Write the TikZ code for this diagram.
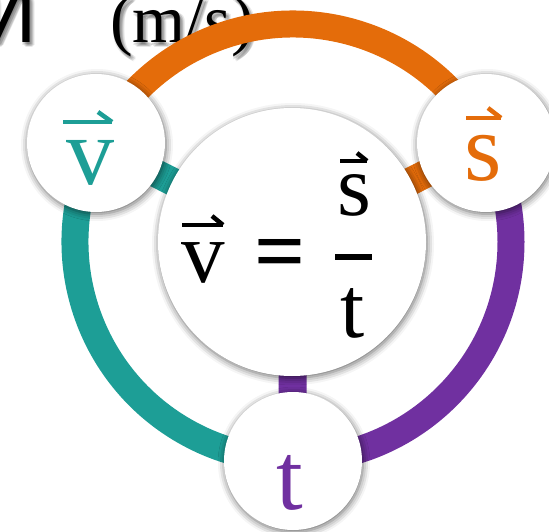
\documentclass[tikz,border=0pt]{standalone}
\usepackage{fontspec}
\setmainfont{Liberation Serif}
\newfontfamily\thaifont[Script=Thai]{Loma}
\usetikzlibrary{shadows.blur}
\definecolor{cteal}{HTML}{1D9E96}
\definecolor{corange}{HTML}{E46C0A}
\definecolor{cpurple}{HTML}{7030A0}
\tikzset{
  band/.style={line width=27pt},
  spoke/.style={line width=28pt},
  disc/.style={circle, fill=white, draw=none, inner sep=0pt,
    blur shadow={shadow xshift=1pt, shadow yshift=-2pt, shadow blur radius=7pt, shadow opacity=60}},
  bigletter/.style={font=\fontsize{96}{110}\selectfont, inner sep=0pt, anchor=base},
  eqletter/.style={font=\fontsize{87}{100}\selectfont, inner sep=0pt, anchor=base},
  harp/.style={line width=4.5pt, line cap=butt},
  thaitext/.style={anchor=base east, inner sep=0pt, font=\thaifont\fontsize{92}{100}\selectfont},
  unittext/.style={anchor=base west, inner sep=0pt, font=\fontsize{68}{80}\selectfont},
}
\begin{document}
\begin{tikzpicture}[x=1pt,y=1pt]
\useasboundingbox (0,0) rectangle (549,531);
% header text with soft shadow
\foreach \k/\dx/\dy in {1/1/-2,2/3/-2,3/2/-4,4/0/-3,5/4/-4,6/3/-5,7/5/-3} {
  \node[thaitext, text=black, opacity=0.09] (ths\k) at (36+\dx,488+\dy) {ท};
  \node[unittext, text=black, opacity=0.09] (uns\k) at (110+\dx,488+\dy) {(m/s)};
}
\node[thaitext] (th) at (36,488) {ท};
\node[unittext] (unit) at (110,488) {(m/s)};
% positions
\coordinate (C) at (293,289);
\coordinate (pm) at (292,289);
\coordinate (pv) at (96,388);
\coordinate (ps) at (486,388);
\coordinate (pt) at (293,70);
% ring
\draw[band, corange] ([shift={(27.2:218)}]C) arc[start angle=27.2, end angle=153.3, radius=218];
\draw[band, cpurple] ([shift={(-90:218)}]C) arc[start angle=-90, end angle=27.2, radius=218];
\draw[band, cteal] ([shift={(153.3:218)}]C) arc[start angle=153.3, end angle=270, radius=218];
% spokes
\draw[spoke, cteal] (pm) -- (pv);
\draw[spoke, corange] (pm) -- (ps);
\draw[spoke, cpurple] (pm) -- (pt);
% discs
\node[disc, minimum size=268pt] (mid) at (pm) {};
\node[disc, minimum size=138pt] (cv) at (pv) {};
\node[disc, minimum size=138pt] (cs) at (ps) {};
\node[disc, minimum size=138pt] (ct) at (pt) {};
% small letters
\node[bigletter, text=cteal] (lv) at (90,346) {v};
\node[bigletter, text=corange] (ls) at (483,350) {s};
\node[bigletter, text=cpurple] (lt) at (290,21.5) {t};
\draw[harp, cteal] (63,409) -- (112,409);
\draw[harp, cteal] (112,409) -- (98,419);
\draw[harp, corange] (466,413) -- (501,413);
\draw[harp, corange] (501,413) -- (488,423);
% equation
\node[eqletter] (ev) at (203,249) {v};
\node[eqletter, font=\bfseries\fontsize{90}{100}\selectfont] (eeq) at (280,250) {=};
\node[eqletter] (es) at (354,315) {s};
\node[eqletter] (et) at (353,194) {t};
\draw[line width=6pt] (335,273.5) -- (372,273.5);
\draw[harp] (182,306) -- (223,306);
\draw[harp] (223,306) -- (212,315);
\draw[harp] (340,370) -- (367,370);
\draw[harp] (367,370) -- (357,378);
\end{tikzpicture}
\end{document}
